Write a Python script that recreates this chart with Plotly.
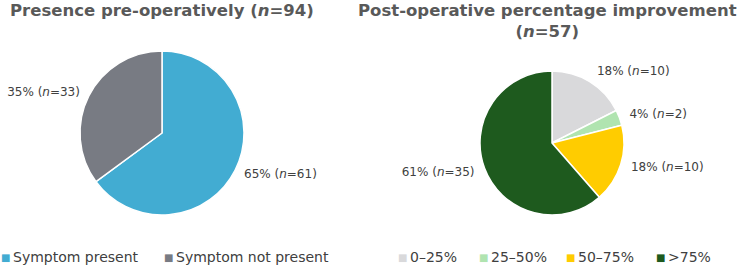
import plotly.graph_objects as go

W, H = 745, 268

# Left pie data
pre_labels = ["Symptom present", "Symptom not present"]
pre_counts = [61, 33]
pre_pcts = [65, 35]
pre_colors = ["#42ACD2", "#787B83"]

# Right pie data
post_labels = ["0\u201325%", "25\u201350%", "50\u201375%", ">75%"]
post_counts = [10, 2, 10, 35]
post_pcts = [18, 4, 18, 61]
post_colors = ["#D9D9DB", "#B0E4B0", "#FFCC00", "#1E5A1E"]

FONT = "DejaVu Sans"
TXT = "#404040"
TITLE_C = "#595959"


def lbl(p, n):
    return f"{p}% (<i>n</i>={n})"


def dom(cx, cy, r):
    return dict(x=[(cx - r) / W, (cx + r) / W], y=[(H - cy - r) / H, (H - cy + r) / H])


fig = go.Figure()
pies = [
    (pre_labels, pre_counts, pre_pcts, pre_colors, (162, 133, 82), 6),
    (post_labels, post_counts, post_pcts, post_colors, (552, 143, 72), 7),
]
for labels, counts, pcts, colors, (cx, cy, r), gap in pies:
    # visible pie
    fig.add_trace(go.Pie(
        labels=labels, values=counts, textinfo="none",
        marker=dict(colors=colors, line=dict(color="white", width=1.5)),
        sort=False, direction="clockwise", rotation=0,
        domain=dom(cx, cy, r), showlegend=False, hoverinfo="label+value",
    ))
    # transparent companion pie carrying the outside data labels a little further out
    fig.add_trace(go.Pie(
        labels=labels, values=counts,
        text=[lbl(p, n) for p, n in zip(pcts, counts)],
        textinfo="text", textposition="outside",
        textfont=dict(family=FONT, size=12, color=TXT),
        marker=dict(colors=["rgba(0,0,0,0)"] * len(counts), line=dict(width=0)),
        sort=False, direction="clockwise", rotation=0,
        domain=dom(cx, cy, r + gap), showlegend=False, hoverinfo="skip",
    ))

annotations = [
    dict(text="<b>Presence pre-operatively (<i>n</i>=94)</b>", x=162 / W, y=1 - 11 / H,
         xref="paper", yref="paper", xanchor="center", yanchor="middle",
         showarrow=False, font=dict(family=FONT, size=16.5, color=TITLE_C)),
    dict(text="<b>Post-operative percentage improvement<br>(<i>n</i>=57)</b>", x=547 / W,
         y=1 - 21 / H, xref="paper", yref="paper", xanchor="center", yanchor="middle",
         showarrow=False, font=dict(family=FONT, size=16.5, color=TITLE_C)),
]

# legend rows (marker x positions in px)
legend_rows = [
    (pre_labels, pre_colors, [2, 165]),
    (post_labels, post_colors, [399, 480, 567, 657]),
]
for labels, colors, xs in legend_rows:
    for lab, col, x in zip(labels, colors, xs):
        annotations.append(dict(text="\u25A0", x=(x - 3) / W, y=1 - 257 / H, xref="paper", yref="paper",
                                xanchor="left", yanchor="middle", showarrow=False,
                                font=dict(family=FONT, size=10, color=col)))
        annotations.append(dict(text=lab, x=(x + 9) / W, y=1 - 257 / H, xref="paper", yref="paper",
                                xanchor="left", yanchor="middle", showarrow=False,
                                font=dict(family=FONT, size=14, color=TXT)))

fig.update_layout(
    width=W, height=H,
    margin=dict(l=0, r=0, t=0, b=0),
    paper_bgcolor="white", plot_bgcolor="white",
    font=dict(family=FONT, color=TXT),
    annotations=annotations,
)

fig.write_html("out.html")
